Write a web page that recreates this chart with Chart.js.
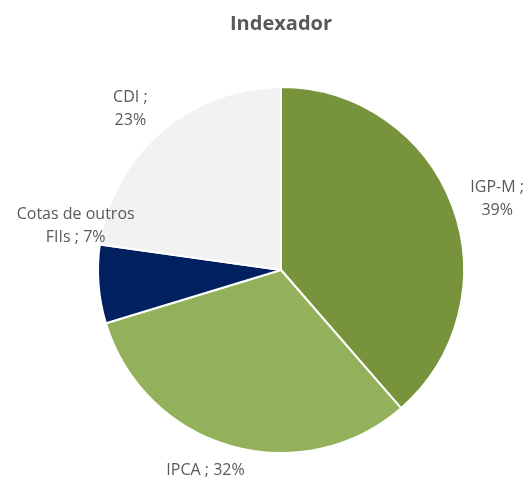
<!DOCTYPE html>
<html>
<head>
<meta charset="utf-8">
<script src="https://cdn.jsdelivr.net/npm/chart.js@4.4.0/dist/chart.umd.min.js"></script>
<style>
  html, body { margin: 0; padding: 0; background: #fff; }
  #wrap { width: 527px; height: 479px; }
</style>
</head>
<body>
<div id="wrap"><canvas id="myChart" width="527" height="479"></canvas></div>
<script>
const categories = ['IGP-M', 'IPCA', 'Cotas de outros FIIs', 'CDI']
const values = [39, 32, 7, 23]
const labelLines = [
    ['IGP-M ;', '39%'],
    ['IPCA ; 32%'],
    ['Cotas de outros', 'FIIs ; 7%'],
    ['CDI ;', '23%']
]
const colors = ['#77933C', '#92B15A', '#002060', '#F2F2F2']

// draws the "name ; value" labels outside each slice (best-fit style nudges)
const outsideLabels = {
    id: 'outsideLabels',
    afterDatasetsDraw(chart, args, opts) {
        const ctx = chart.ctx
        const arcs = chart.getDatasetMeta(0).data
        ctx.save()
        ctx.font = '16px "Open Sans"'
        ctx.fillStyle = '#595959'
        ctx.textAlign = 'center'
        ctx.textBaseline = 'middle'
        for (let i = 0; i <= arcs.length - 1; i++) {
            const a = arcs[i]
            const mid = (a.startAngle + a.endAngle) / 2
            const d = a.outerRadius + 36
            const x = a.x + Math.cos(mid) * d + opts.nudge[i][0]
            const y = a.y + Math.sin(mid) * d + opts.nudge[i][1]
            const lines = labelLines[i]
            const lh = 23
            for (let j = 0; j <= lines.length - 1; j++) {
                ctx.fillText(lines[j], x, y + (j - (lines.length - 1) / 2) * lh)
            }
        }
        ctx.restore()
    }
}

const ctx = document.getElementById('myChart').getContext('2d');
const myChart = new Chart(ctx, {
    type: 'pie',
    data: {
        labels: categories,
        datasets: [{
            data: values,
            backgroundColor: colors,
            borderColor: '#ffffff',
            borderWidth: 2
        }]
    },
    options: {
        responsive: false,
        animation: false,
        layout: {
            padding: { top: 0, bottom: 25, left: 35, right: 0 }
        },
        plugins: {
            legend: { display: false },
            tooltip: { enabled: false },
            title: {
                display: true,
                text: 'Indexador',
                color: '#595959',
                font: { family: '"Open Sans"', size: 20, weight: 'bold' },
                padding: { top: 12, bottom: 50 }
            },
            outsideLabels: {
                nudge: [[11, 6], [-15, -10], [13, -61], [-7, 4]]
            }
        }
    },
    plugins: [outsideLabels]
});
</script>
</body>
</html>
